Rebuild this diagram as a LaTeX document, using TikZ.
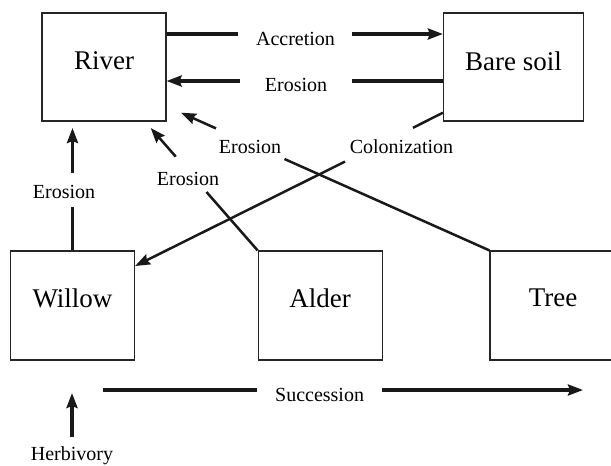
\documentclass[tikz,border=0pt]{standalone}
\usepackage{fontspec}
\setmainfont{Liberation Serif}
\usetikzlibrary{arrows.meta}
\begin{document}
\begin{tikzpicture}[x=1pt,y=-1pt,
  box/.style={draw=black!85, line width=1.2pt, minimum width=124pt, minimum height=108pt, inner sep=0pt},
  big/.style={font=\fontsize{27}{30}\selectfont, inner sep=0pt, text depth=0pt},
  small/.style={font=\fontsize{20}{22}\selectfont, inner sep=0pt, text depth=0pt},
  con/.style={line width=3.2pt, black!90},
  dcon/.style={line width=2.5pt, black!90},
  tip/.style={-{Stealth[length=15pt,width=11pt,inset=2pt]}}
]
\useasboundingbox (0,0) rectangle (611,466);
\clip (0,0) rectangle (611,466);

% boxes
\node[box] (river) at (104,67) {};
\node[box, minimum width=140pt] (bare) at (513.5,67) {};
\node[box, minimum height=109pt] (willow) at (72.5,305.5) {};
\node[box, minimum height=109pt] (alder) at (320.2,305.5) {};
\node[box, minimum height=109pt] (tree) at (552,305.5) {};

\node[big] (triver) at (104,61) {River};
\node[big] (tbare) at (513.5,61) {Bare soil};
\node[big] (twillow) at (72.5,298) {Willow};
\node[big] (talder) at (320.2,298) {Alder};
\node[big] (ttree) at (553,298) {Tree};

% Accretion
\coordinate (acc1) at (238,34);
\coordinate (acc2) at (352,34);
\draw[con] (river.east |- acc1) -- (acc1);
\draw[con,tip] (acc2) -- (bare.west |- acc2);
\node[small] (lacc) at (295.5,39) {Accretion};

% Erosion bare -> river
\coordinate (er1) at (352,81);
\coordinate (er2) at (240,81);
\draw[con] (bare.west |- er1) -- (er1);
\draw[con,tip] (er2) -- (river.east |- er2);
\node[small] (lero) at (296,85) {Erosion};

% Erosion tree -> river
\coordinate (t1) at (284.5,159);
\coordinate (t2) at (216,128.4);
\coordinate (t3) at (181,112.7);
\draw[dcon] (tree.north west) -- (t1);
\draw[dcon,tip] (t2) -- (t3);
\node[small] (ltree) at (250,147) {Erosion};

% Erosion alder -> river
\coordinate (a1) at (206.5,192);
\coordinate (a2) at (175.8,156.7);
\coordinate (a3) at (150.7,128);
\draw[dcon] (alder.north west) -- (a1);
\draw[dcon,tip] (a2) -- (a3);
\node[small] (lalder) at (188,179) {Erosion};

% Colonization bare -> willow
\coordinate (c0) at (0,112.7);
\coordinate (c1) at (413,127.8);
\coordinate (c2) at (345,161.6);
\coordinate (c4) at (0,266);
\draw[dcon] (bare.west |- c0) -- (c1);
\draw[dcon,tip] (c2) -- (willow.east |- c4);
\node[small] (lcol) at (401.5,147) {Colonization};

% Erosion willow -> river
\coordinate (w1) at (0,207);
\coordinate (w2) at (0,173);
\coordinate (w3) at (0,128);
\draw[con] (willow.north) -- (willow.north |- w1);
\draw[con,tip] (willow.north |- w2) -- (willow.north |- w3);
\node[small] (lwil) at (64,192) {Erosion};

% Succession
\coordinate (s1) at (103,390);
\coordinate (s2) at (257,390);
\coordinate (s3) at (382,390);
\coordinate (s4) at (583,390);
\draw[con] (s1) -- (s2);
\draw[con,tip] (s3) -- (s4);
\node[small] (lsuc) at (319.6,395) {Succession};

% Herbivory
\coordinate (h1) at (72,437);
\coordinate (h2) at (72,393);
\draw[con,tip] (h1) -- (h2);
\node[small] (lherb) at (72,454) {Herbivory};
\end{tikzpicture}
\end{document}
